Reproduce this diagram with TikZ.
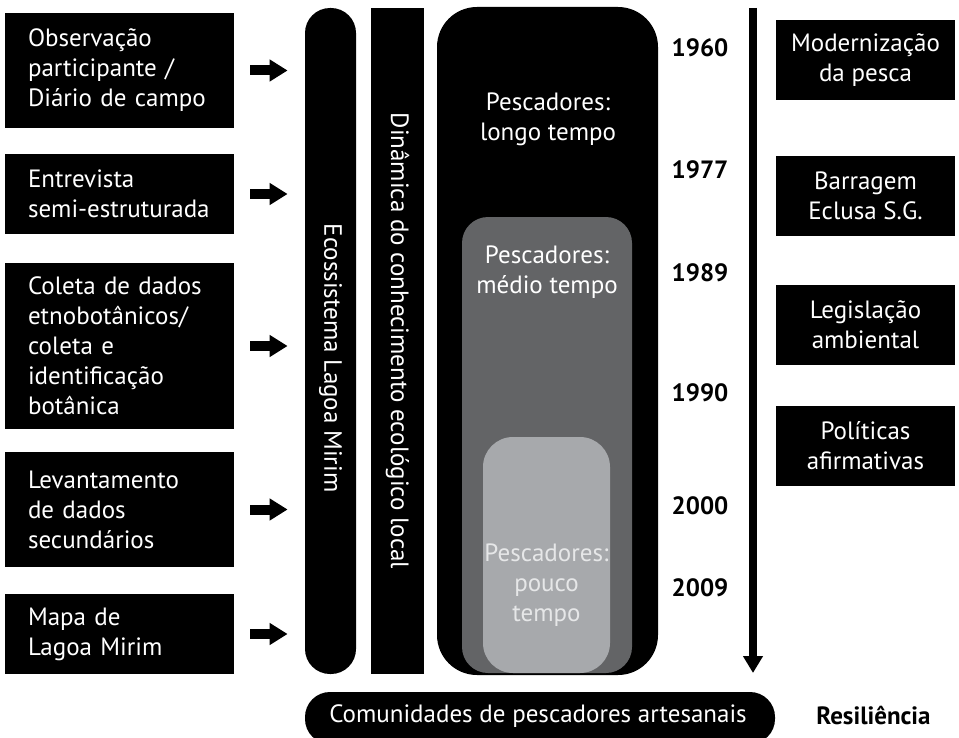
\documentclass[tikz,border=0pt]{standalone}
\usepackage{fontspec}
\setmainfont{PT Sans}
\usepackage{xcolor}
\definecolor{mid_gray}{RGB}{99,100,102}
\definecolor{light_gray}{RGB}{167,169,172}
\definecolor{pale_text}{RGB}{230,231,232}
\usetikzlibrary{arrows.meta}
\hyphenpenalty=10000
\exhyphenpenalty=10000
\tikzset{
  txt/.style={font=\fontsize{12.5}{15}\selectfont},
  method/.style={txt, fill=black, text=white, align=left, text width=91.5pt, inner xsep=11.5pt, inner ysep=0pt},
  event/.style={txt, fill=black, text=white, align=center, minimum width=89.5pt, minimum height=40pt, inner sep=0pt},
  year/.style={font=\fontsize{12.5}{14}\selectfont\bfseries},
  band/.style={fill=black, inner sep=0pt},
  fisher/.style={txt, align=center},
  push/.style={line width=5pt, -{Triangle[length=9pt,width=10.5pt]}, shorten <=8pt, shorten >=8.5pt},
  time/.style={line width=4pt, -{Triangle[length=8.5pt,width=9.5pt]}}
}
\begin{document}
\begin{tikzpicture}[x=0.5pt, y=-0.5pt]
\useasboundingbox (0,0) rectangle (959,738);

\node[method, minimum height=57.5pt] (obs) at (119.5,70.5) {Observação\\participante /\\Diário de campo};
\node[method, minimum height=40pt] (ent) at (119.5,194) {Entrevista\\semi-estruturada};
\node[method, minimum height=83pt] (col) at (119.5,346) {Coleta de dados\\etnobotânicos/\\coleta e\\identificação\\botânica};
\node[method, minimum height=57.5pt] (lev) at (119.5,509.5) {Levantamento\\de dados\\secundários};
\node[method, minimum height=40pt] (map) at (119.5,634) {Mapa de\\Lagoa Mirim};

\node[band, rounded corners=12.5pt, minimum width=25.5pt, minimum height=333pt] (eco) at (330.5,341) {};
\node[txt, text=white, rotate=-90] (ecotxt) at (330.5,358) {Ecossistema Lagoa Mirim};
\node[band, txt, text=white, rotate=-90, minimum width=333pt, minimum height=26.5pt] (dyn) at (397.5,341) {Dinâmica do conhecimento ecológico local};

\draw[push] (obs.east) -- (obs.east -| eco.west);
\draw[push] (ent.east) -- (ent.east -| eco.west);
\draw[push] (col.east) -- (col.east -| eco.west);
\draw[push] (lev.east) -- (lev.east -| eco.west);
\draw[push] (map.east) -- (map.east -| eco.west);

\node[band, rounded corners=20pt, minimum width=110.5pt, minimum height=334pt] (long) at (547.5,341) {};
\node[band, fill=mid_gray, rounded corners=13pt, minimum width=85pt, minimum height=228pt] (mid) at (547,445) {};
\node[band, fill=light_gray, rounded corners=15pt, minimum width=63.5pt, minimum height=118pt] (short) at (546.5,555) {};
\node[fisher, text=white] (longtxt) at (548,119) {Pescadores:\\longo tempo};
\node[fisher, text=white] (midtxt) at (547,272) {Pescadores:\\médio tempo};
\node[fisher, text=pale_text] (shorttxt) at (546.5,585) {Pescadores:\\pouco\\tempo};

\node[year] (y1960) at (700,47.5) {1960};
\node[year] (y1977) at (700,170) {1977};
\node[year] (y1989) at (700,272.5) {1989};
\node[year] (y1990) at (700,393) {1990};
\node[year] (y2000) at (700,506) {2000};
\node[year] (y2009) at (700,588) {2009};

\coordinate (t0) at (753,8);
\coordinate (t1) at (753,673);
\draw[time] (t0) -- (t1);

\node[event] (mod) at (865.5,60.5) {Modernização\\da pesca};
\node[event] (dam) at (865.5,196) {Barragem\\Eclusa S.G.};
\node[event] (law) at (865.5,324.5) {Legislação\\ambiental};
\node[event] (pol) at (865.5,446) {Políticas\\afirmativas};

\node[band, rounded corners=12.5pt, minimum width=235pt, minimum height=26pt] (com) at (540,718) {};
\node[txt, text=white] (comtxt) at (538,716) {Comunidades de pescadores artesanais};
\node[year, font=\fontsize{12.5}{15}\selectfont\bfseries] (res) at (873.5,716) {Resiliência};
\end{tikzpicture}
\end{document}
